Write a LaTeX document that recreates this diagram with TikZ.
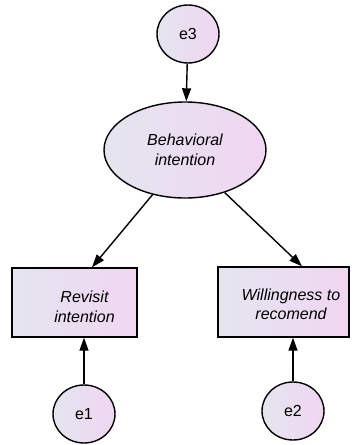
\documentclass[tikz,border=0pt]{standalone}
\usepackage{fontspec}
\setmainfont{Liberation Sans}
\usetikzlibrary{shapes.geometric,arrows.meta,calc}
\definecolor{shadeL}{RGB}{228,229,239}
\definecolor{shadeR}{RGB}{240,214,242}
\begin{document}
\begin{tikzpicture}[x=1pt,y=-1pt,
  shadefill/.style={left color=shadeL, right color=shadeR, draw=black, line width=1.4pt},
  errnode/.style={shadefill, ellipse, minimum width=62pt, minimum height=58pt, inner sep=0pt, font=\fontsize{16}{19}\selectfont},
  latent/.style={shadefill, ellipse, minimum width=162pt, minimum height=96pt, inner sep=0pt, align=center, font=\fontsize{16}{20}\selectfont\itshape},
  observed/.style={shadefill, rectangle, inner sep=0pt},
  lbl/.style={align=center, inner sep=0pt, font=\fontsize{16}{19.5}\selectfont\itshape},
  conn/.style={line width=1.4pt, -{Triangle[length=13pt,width=9pt]}}
]
\useasboundingbox (0,0) rectangle (354,445);
\node[errnode] (e3) at (188,34) {e3};
\node[latent] (bi) at (185,150) {Behavioral\\intention};
\node[observed, minimum width=125pt, minimum height=69pt] (r1) at (74.5,302.5) {};
\node[lbl] (r1t) at ($(r1)+(10,4.5)$) {Revisit\\intention};
\node[observed, minimum width=131pt, minimum height=70pt] (r2) at (283.5,302) {};
\node[lbl] (r2t) at ($(r2)+(7.5,2.5)$) {Willingness to\\recomend};
\node[errnode] (e1) at (84,414) {e1};
\node[errnode] (e2) at (293,411) {e2};
\coordinate (t1) at ($(r1.north)+(17.5,0)$);
\coordinate (t2) at ($(r2.north)+(18.5,0)$);
\draw[conn] (e3) -- (bi);
\draw[conn] (bi.234) -- (t1);
\draw[conn] (bi.313) -- (t2);
\draw[conn] (e1.north) -- (e1.north |- r1.south);
\draw[conn] (e2.north) -- (e2.north |- r2.south);
\end{tikzpicture}
\end{document}
